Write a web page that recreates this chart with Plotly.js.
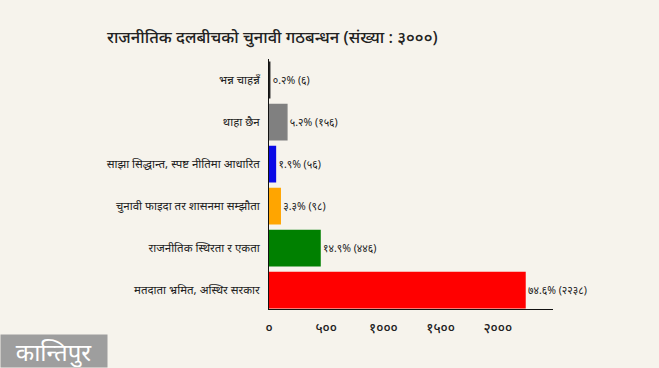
<!DOCTYPE html>
<html><head><meta charset="utf-8">
<script src="https://cdn.plot.ly/plotly-3.0.1.min.js"></script>
<style>html,body{margin:0;padding:0;background:#f6f3ec;}#chart{width:659px;height:368px;}</style>
</head><body><div id="chart"></div>
<script>
const categories = ["भन्न चाहन्नँ", "थाहा छैन", "साझा सिद्धान्त, स्पष्ट नीतिमा आधारित", "चुनावी फाइदा तर शासनमा सम्झौता", "राजनीतिक स्थिरता र एकता", "मतदाता भ्रमित, अस्थिर सरकार"];
const counts = [6, 156, 56, 98, 446, 2238];
const percents = [0.2, 5.2, 1.9, 3.3, 14.9, 74.6];
const colors = ["#222222", "#808080", "#0a0ae6", "#ffa500", "#008000", "#ff0000"];
const tickVals = [0, 500, 1000, 1500, 2000];
const tickText = ["०", "५००", "१०००", "१५००", "२०००"];

const dev = s => String(s).replace(/[0-9]/g, d => "०१२३४५६७८९"[+d]);
const labels = counts.map((c, i) => dev(percents[i].toFixed(1)) + "% (" + dev(c) + ")");

Plotly.newPlot("chart", [{
  type: "bar", orientation: "h",
  x: counts, y: categories,
  marker: {color: colors, line: {color: colors, width: 1.5}},
  width: 0.84,
  text: labels, textposition: "outside", cliponaxis: false,
  textfont: {size: 10.5, color: "#222", family: "Noto Sans, sans-serif"},
  hoverinfo: "none"
}], {
  width: 659, height: 368,
  paper_bgcolor: "#f6f3ec", plot_bgcolor: "#f6f3ec",
  margin: {l: 269, r: 106, t: 59, b: 59},
  showlegend: false,
  font: {family: "Noto Sans, sans-serif", color: "#222"},
  title: {text: "राजनीतिक दलबीचको चुनावी गठबन्धन (संख्या : ३०००)", x: 107/659, xanchor: "left", y: 0.9, yanchor: "middle", font: {size: 16.5, color: "#222", weight: 500}},
  xaxis: {range: [0, 2483], tickvals: tickVals, ticktext: tickText, showgrid: false, zeroline: false,
          showline: true, linecolor: "#111", linewidth: 1, ticks: "", tickfont: {size: 13.5, color: "#222", weight: 500}, ticklabelstandoff: 7, fixedrange: true},
  yaxis: {autorange: false, range: [5.45, -0.5], showgrid: false, zeroline: false, showline: true, linecolor: "#111", linewidth: 1,
          ticks: "", ticklabelstandoff: 6, tickfont: {size: 11.5, color: "#222"}, fixedrange: true},
  annotations: [{text: "कान्तिपुर", xref: "paper", yref: "paper", x: -269/284, y: -59/250, xanchor: "left", yanchor: "bottom",
    showarrow: false, bgcolor: "#9e9e9e", font: {size: 24, color: "#ffffff"}, width: 106, height: 32, borderpad: 0}]
}, {displayModeBar: false, staticPlot: true});
</script></body></html>
